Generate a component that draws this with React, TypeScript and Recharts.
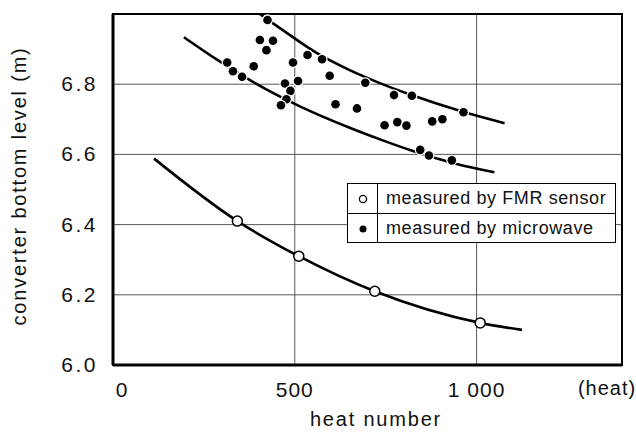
import React from "react";
import {
  CartesianGrid,
  ComposedChart,
  Line,
  ReferenceArea,
  Scatter,
  XAxis,
  YAxis
} from "recharts";

// open circles: measured by FMR sensor
const fmrHeat = [342, 511, 720, 1010];
const fmrLevel = [6.41, 6.31, 6.21, 6.12];

// fitted curve through the FMR points
const fmrCurveHeat = [113, 342, 511, 720, 1010, 1125];
const fmrCurveLevel = [6.588, 6.41, 6.31, 6.21, 6.12, 6.1];

// filled dots: measured by microwave
const mwHeat = [
  425, 404, 440, 422, 314, 330, 355, 387, 495, 535, 473, 509, 488, 477, 462, 575,
  596, 694, 612, 671, 773, 822, 964, 747, 782, 807, 878, 906, 845, 869, 932
];
const mwLevel = [
  6.983, 6.926, 6.924, 6.897, 6.862, 6.837, 6.821, 6.851, 6.862, 6.883, 6.802, 6.809,
  6.781, 6.757, 6.74, 6.871, 6.824, 6.804, 6.743, 6.731, 6.769, 6.767, 6.72, 6.683,
  6.692, 6.682, 6.694, 6.7, 6.613, 6.597, 6.583
];

// upper and lower envelope of the microwave data
const upperHeat = [404, 467, 560, 651, 734, 821, 967, 1077];
const upperLevel = [7.0, 6.954, 6.889, 6.84, 6.803, 6.769, 6.72, 6.689];
const lowerHeat = [195, 286, 371, 453, 514, 651, 742, 821, 948, 1049];
const lowerLevel = [6.934, 6.87, 6.815, 6.768, 6.737, 6.676, 6.64, 6.611, 6.572, 6.549];

const xTicks = [0, 500, 1000];
const xTickLabels = ["0", "500", "1 000"];
const yTicks = [6.0, 6.2, 6.4, 6.6, 6.8];
const yTickLabels = ["6.0", "6.2", "6.4", "6.6", "6.8"];

const zip = (xs: number[], ys: number[]) => xs.map((x, i) => ({ x, y: ys[i] }));

const fmrData = zip(fmrHeat, fmrLevel);
const fmrCurve = zip(fmrCurveHeat, fmrCurveLevel);
const mwData = zip(mwHeat, mwLevel);
const upperCurve = zip(upperHeat, upperLevel);
const lowerCurve = zip(lowerHeat, lowerLevel);

const FONT = "'Liberation Sans', Arial, sans-serif";

function XTick({ x, y, payload }: any) {
  const i = xTicks.indexOf(payload.value);
  const dx = payload.value === 0 ? 9 : 0;
  return (
    <text x={x + dx} y={y + 30} textAnchor="middle" fontFamily={FONT} fontSize={21} letterSpacing={1} fill="#111">
      {xTickLabels[i]}
    </text>
  );
}

function YTick({ x, y, payload }: any) {
  const i = yTicks.findIndex((t) => Math.abs(t - payload.value) < 1e-6);
  return (
    <text x={x - 13} y={y + 7} textAnchor="end" fontFamily={FONT} fontSize={21} letterSpacing={2.5} fill="#111">
      {yTickLabels[i]}
    </text>
  );
}

const FilledDot = (p: any) => (
  <circle cx={p.cx} cy={p.cy} r={4.3} fill="#000" stroke="#fff" strokeWidth={2.6} style={{ paintOrder: "stroke" }} />
);

const OpenDot = (p: any) => (
  <circle cx={p.cx} cy={p.cy} r={5} fill="#fff" stroke="#000" strokeWidth={1.5} />
);

export default function App() {
  return (
    <div style={{ position: "absolute", left: 0, top: 0, width: 636, height: 433, background: "#fff" }}>
      <ComposedChart width={636} height={433} margin={{ top: 14, right: 14, bottom: 28, left: 43 }}>
        <CartesianGrid stroke="#444" strokeWidth={0.9} />
        <XAxis
          type="number"
          dataKey="x"
          domain={[0, 1400]}
          ticks={xTicks}
          interval={0}
          height={40}
          tickSize={0}
          tickLine={false}
          axisLine={{ stroke: "#000", strokeWidth: 3 }}
          tick={(p: any) => <XTick {...p} />}
        />
        <YAxis
          type="number"
          dataKey="y"
          domain={[6, 7]}
          ticks={yTicks}
          interval={0}
          width={70}
          tickSize={0}
          tickLine={false}
          axisLine={{ stroke: "#000", strokeWidth: 3 }}
          tick={(p: any) => <YTick {...p} />}
        />
        <ReferenceArea x1={0} x2={1400} y1={6} y2={7} fill="none" stroke="#000" strokeWidth={2} ifOverflow="visible" />
        <Line data={fmrCurve} dataKey="y" type="monotone" stroke="#000" strokeWidth={2.6} dot={false} isAnimationActive={false} />
        <Line data={upperCurve} dataKey="y" type="monotone" stroke="#000" strokeWidth={2.6} dot={false} isAnimationActive={false} />
        <Line data={lowerCurve} dataKey="y" type="monotone" stroke="#000" strokeWidth={2.6} dot={false} isAnimationActive={false} />
        <Scatter data={mwData} dataKey="y" shape={FilledDot} isAnimationActive={false} />
        <Scatter data={fmrData} dataKey="y" shape={OpenDot} isAnimationActive={false} />
      </ComposedChart>
      <svg
        width={636}
        height={433}
        style={{ position: "absolute", left: 0, top: 0, pointerEvents: "none" }}
        fontFamily={FONT}
        fill="#111"
      >
        <text
          x={19}
          y={186}
          transform="rotate(-90 19 186)"
          textAnchor="middle"
          dominantBaseline="central"
          fontSize={20}
          letterSpacing={1.8}
        >
          converter bottom level (m)
        </text>
        <text x={376} y={426} textAnchor="middle" fontSize={20} letterSpacing={1.8}>
          heat number
        </text>
        <text x={607} y={395} textAnchor="middle" fontSize={20} letterSpacing={1}>
          (heat)
        </text>
      </svg>
      <div
        style={{
          position: "absolute",
          left: 347,
          top: 183,
          width: 269,
          height: 60,
          boxSizing: "border-box",
          border: "1.5px solid #000",
          background: "#fff",
          fontFamily: FONT,
          fontSize: 18,
          letterSpacing: 0.6,
          color: "#111"
        }}
      >
        {[
          { label: "measured by FMR sensor", open: true },
          { label: "measured by microwave", open: false }
        ].map((row, i) => (
          <div
            key={row.label}
            style={{
              display: "flex",
              height: 29,
              alignItems: "center",
              borderTop: i ? "1.5px solid #000" : "none"
            }}
          >
            <div
              style={{
                width: 29,
                height: "100%",
                borderRight: "1.5px solid #000",
                display: "flex",
                alignItems: "center",
                justifyContent: "center"
              }}
            >
              <svg width={10} height={10}>
                {row.open ? (
                  <circle cx={5} cy={5} r={3.6} fill="#fff" stroke="#000" strokeWidth={1.3} />
                ) : (
                  <circle cx={5} cy={5} r={3.5} fill="#000" />
                )}
              </svg>
            </div>
            <span style={{ paddingLeft: 8 }}>{row.label}</span>
          </div>
        ))}
      </div>
    </div>
  );
}
